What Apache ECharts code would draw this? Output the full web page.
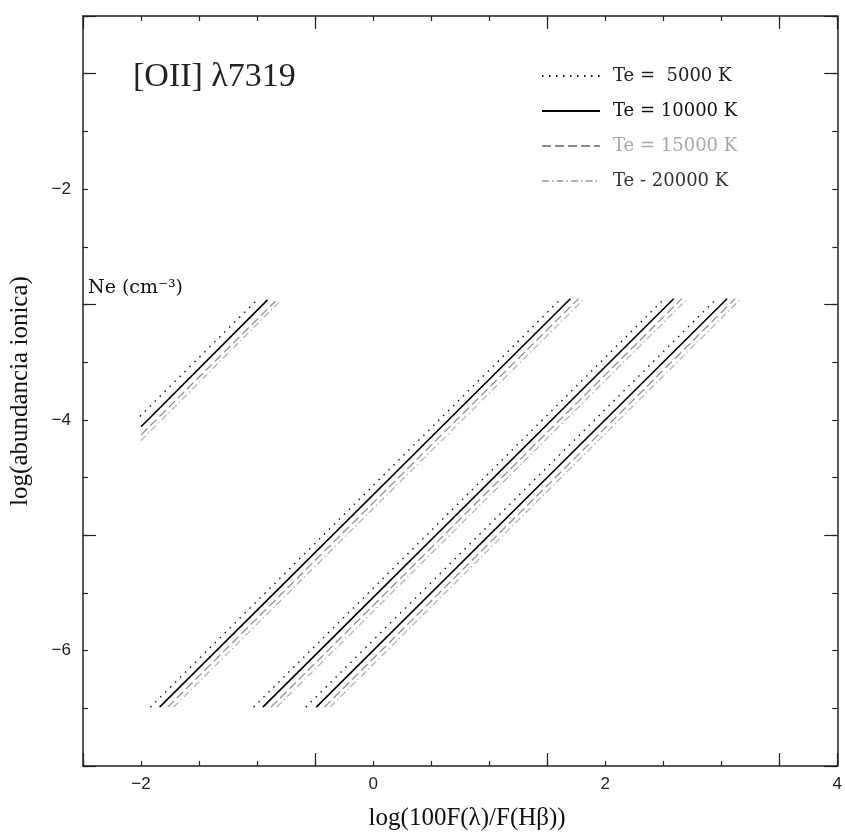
<!DOCTYPE html>
<html><head><meta charset="utf-8">
<script src="https://cdn.jsdelivr.net/npm/echarts@6/dist/echarts.min.js"></script>
<style>html,body{margin:0;padding:0;background:#fff}#c{width:845px;height:836px}</style>
</head><body><div id="c"></div>
<script>
// ---- data ----
const teNames = ['Te =  5000 K', 'Te = 10000 K', 'Te = 15000 K', 'Te - 20000 K'];
const neLabels = ['500', '1000', '1500', '2000'];
const xTickLabels = [-2, 0, 2, 4];
const yTickLabels = [-2, -4, -6];
// each curve: [[x_low, y_low], [x_high, y_high]] for Te = 5000, 10000, 15000, 20000 K
const ne500 = [
  [[-2.01, -3.97], [-1.01, -2.97]],
  [[-2.00, -4.06], [-0.91, -2.96]],
  [[-2.00, -4.13], [-0.84, -2.97]],
  [[-2.00, -4.18], [-0.79, -2.96]]
];
const ne1000 = [
  [[-1.92, -6.49], [1.62, -2.95]],
  [[-1.84, -6.49], [1.70, -2.95]],
  [[-1.77, -6.49], [1.77, -2.95]],
  [[-1.72, -6.49], [1.82, -2.95]]
];
const ne1500 = [
  [[-1.03, -6.49], [2.51, -2.95]],
  [[-0.95, -6.49], [2.59, -2.95]],
  [[-0.88, -6.49], [2.66, -2.95]],
  [[-0.83, -6.49], [2.71, -2.95]]
];
const ne2000 = [
  [[-0.58, -6.49], [2.96, -2.95]],
  [[-0.49, -6.49], [3.05, -2.95]],
  [[-0.42, -6.49], [3.12, -2.95]],
  [[-0.37, -6.49], [3.17, -2.95]]
];

// ---- styling ----
const groups = [ne500, ne1000, ne1500, ne2000];
const lineStyles = [
  { color: '#111', width: 1.4, type: [1.5, 5.5] },
  { color: '#000', width: 1.6, type: 'solid' },
  { color: '#8a8a8a', width: 1.2, type: [9, 4] },
  { color: '#b0b0b0', width: 1.2, type: [7, 3, 1.5, 3] }
];
const neLabelOffsets = [[7, 0], [-7, 0], [-5, 0], [22, 0]];
const neLabelFonts = ['Liberation Sans', 'DejaVu Serif', 'DejaVu Serif', 'Liberation Sans'];
const neLabelSizes = [20, 17, 17, 20];
const legendColors = ['#222', '#111', '#a8a8a8', '#333'];

function fmt(v) { return v < 0 ? '\u2212' + Math.abs(v) : String(v); }

const series = [];
groups.forEach((g, gi) => {
  g.forEach((pts, ti) => {
    const data = pts.map((p, pi) => {
      if (ti === 1 && pi === 1) {
        return {
          value: p,
          label: {
            show: true, position: 'top', distance: 6, offset: neLabelOffsets[gi],
            formatter: neLabels[gi], fontFamily: neLabelFonts[gi], fontSize: neLabelSizes[gi], color: '#111'
          }
        };
      }
      return p;
    });
    series.push({
      type: 'line', name: teNames[ti], data: data, symbol: 'none', showSymbol: false,
      lineStyle: lineStyles[ti], itemStyle: { color: lineStyles[ti].color },
      animation: false, silent: true, z: 4 - ti
    });
  });
});

const axisLineStyle = { color: '#222', width: 1.5 };
function mkAxis(pos, min, max, interval, major, extra) {
  return Object.assign({
    type: 'value', position: pos, min: min, max: max, interval: interval,
    axisLine: { show: !major, onZero: false, lineStyle: axisLineStyle },
    axisTick: { show: true, inside: true, length: major ? 13 : 5, lineStyle: { color: '#222', width: 1.2 } },
    axisLabel: { show: false },
    splitLine: { show: false }
  }, extra || {});
}
const tickFont = { fontFamily: 'Liberation Sans', fontSize: 17, color: '#222' };

const option = {
  backgroundColor: '#fff',
  animation: false,
  grid: { left: 80, top: 16, width: 758, height: 762 },
  xAxis: [
    mkAxis('bottom', -2.5, 4, 0.5, false, {
      axisLabel: Object.assign({ show: true, margin: 10, formatter: v => xTickLabels.includes(v) ? fmt(v) : '' }, tickFont),
      name: 'log(100F(λ)/F(Hβ))', nameLocation: 'middle', nameGap: 40,
      nameTextStyle: { fontFamily: 'Liberation Serif', fontSize: 25, color: '#111', padding: [0, 0, 0, 14] }
    }),
    mkAxis('bottom', -2.5, 4, 2, true),
    mkAxis('top', -2.5, 4, 0.5, false),
    mkAxis('top', -2.5, 4, 2, true)
  ],
  yAxis: [
    mkAxis('left', -7, -0.5, 0.5, false, {
      axisLabel: Object.assign({ show: true, margin: 12, formatter: v => yTickLabels.includes(v) ? fmt(v) : '' }, tickFont),
      name: 'log(abundancia ionica)', nameLocation: 'middle', nameGap: 50,
      nameTextStyle: { fontFamily: 'Liberation Serif', fontSize: 25, color: '#111' }
    }),
    mkAxis('left', -7, -0.5, 2, true),
    mkAxis('right', -7, -0.5, 0.5, false),
    mkAxis('right', -7, -0.5, 2, true)
  ],
  legend: {
    orient: 'vertical', left: 536, top: 62, itemWidth: 58, itemHeight: 14, itemGap: 17,
    selectedMode: false,
    itemStyle: { opacity: 0 },
    data: teNames.map((n, i) => ({ name: n, textStyle: { color: legendColors[i] } })),
    textStyle: { fontFamily: 'DejaVu Serif', fontSize: 18, padding: [0, 0, 0, 8] }
  },
  graphic: [
    { type: 'text', left: 133, top: 60, style: { text: '[OII] \u03bb7319', font: '34px "Liberation Serif"', fill: '#222' } },
    { type: 'text', left: 88, top: 279, style: { text: 'Ne (cm\u207b\u00b3)', font: '19px "DejaVu Serif"', fill: '#111' } }
  ],
  series: series
};

const chart = echarts.init(document.getElementById('c'), null, { renderer: 'canvas' });
chart.setOption(option);
</script>
</body></html>
